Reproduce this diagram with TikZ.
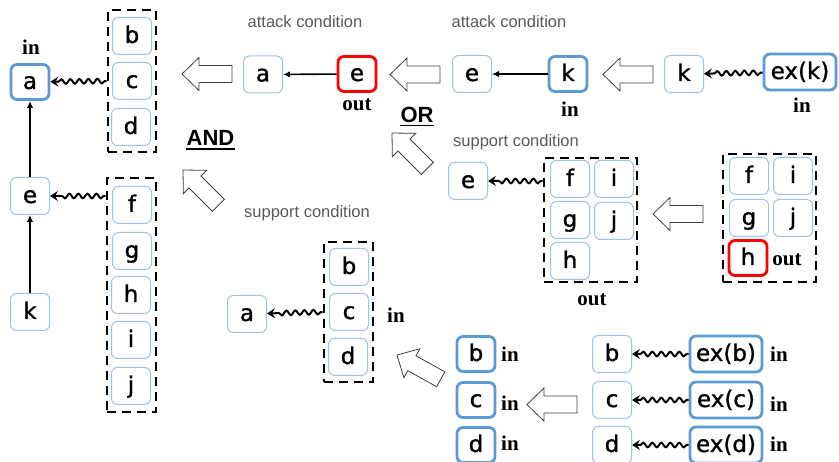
\documentclass[tikz,border=0pt]{standalone}
\usepackage{fontspec}
\setmainfont{Liberation Sans}
\newfontfamily\boxfont[FakeBold=1.2]{DejaVu Sans}
\newfontfamily\tagfont{Liberation Serif}
\usetikzlibrary{arrows.meta,decorations.pathmorphing}
\definecolor{lightblue}{HTML}{9DC3E6}
\definecolor{deepblue}{HTML}{5B9BD5}
\definecolor{condgray}{HTML}{595959}
\definecolor{outlinegray}{HTML}{404040}

\tikzset{
  arg/.style={draw=lightblue, line width=1pt, rounded corners=6pt,
    minimum width=39pt, minimum height=37pt, inner sep=0pt,
    text height=17pt, text depth=3pt, font=\boxfont\fontsize{23}{25}\selectfont},
  argin/.style={arg, draw=deepblue, line width=2.8pt, minimum width=38pt, minimum height=35pt},
  argout/.style={arg, draw=red, line width=2.8pt, minimum width=38pt, minimum height=35pt},
  exarg/.style={argin, minimum width=72pt, minimum height=36pt},
  dashgroup/.style={draw, line width=2.6pt, dash pattern=on 9pt off 6pt, inner sep=0pt},
  statelab/.style={font=\tagfont\bfseries\fontsize{21}{23}\selectfont, inner sep=0pt},
  cond/.style={font=\fontsize{16.5}{18}\selectfont, text=condgray, inner sep=0pt},
  logic/.style={font=\bfseries\fontsize{22}{24}\selectfont, inner sep=0pt},
  attack/.style={line width=1.6pt, -{Latex[length=7pt,width=6.5pt]}},
  support/.style={line width=2pt, -{Stealth[length=8pt,width=10pt,inset=3pt]},
    decorate, decoration={snake, amplitude=2.3pt, segment length=9pt,
    pre length=2pt, post length=8pt}},
  hollow/.pic={\draw[outlinegray, line width=0.8pt, fill=white, line join=miter]
    (0,0) -- (17,-16.5) -- (17,-8.5) -- (50,-8.5) -- (50,8.5) -- (17,8.5) -- (17,16.5) -- cycle;}
}

\begin{document}
\begin{tikzpicture}[x=1pt, y=-1pt]
\useasboundingbox (0,0) rectangle (839,462);

% ---------- left: resulting graph ----------
\node[argin] (A1) at (30,82) {a};
\node[statelab] (inA1) at (31,47) {in};
\node[arg] (E1) at (30,196) {e};
\node[arg] (K1) at (30,312) {k};
\node[dashgroup, minimum width=48pt, minimum height=142pt] (X1) at (132,81) {};
\node[arg] (B1) at (132,36) {b};
\node[arg] (C1) at (132,81) {c};
\node[arg] (D1) at (131,127) {d};
\node[dashgroup, minimum width=49pt, minimum height=234pt] (X2) at (131.5,295) {};
\node[arg] (F1) at (132,205) {f};
\node[arg] (G1) at (132,251) {g};
\node[arg] (H1) at (131,295) {h};
\node[arg] (I1) at (131,340) {i};
\node[arg] (J1) at (131,386) {j};
\draw[support] (X1.west) -- (A1);
\draw[support] (X2.west |- E1) -- (E1);
\draw[attack] (E1) -- (A1);
\draw[attack] (K1) -- (E1);

\node[logic] (andop) at (210.5,138) {AND};
\draw[line width=1.8pt] ([yshift=-3.5pt]andop.base west) -- ([yshift=-3.5pt]andop.base east);

% ---------- top: attack conditions ----------
\node[cond] (att1) at (305,22) {attack condition};
\node[arg] (A2) at (263,74.5) {a};
\node[argout] (E2) at (357,74) {e};
\node[statelab] (outE2) at (357,105) {out};
\draw[attack] (E2) -- (A2);

\node[logic] (orop) at (417,114.5) {OR};
\draw[line width=1.8pt] ([yshift=-3.5pt]orop.base west) -- ([yshift=-3.5pt]orop.base east);

\node[cond] (att2) at (509,22) {attack condition};
\node[arg] (E3) at (472,74) {e};
\node[argin] (K2) at (568,74) {k};
\node[statelab] (inK2) at (570,109) {in};
\draw[attack] (K2) -- (E3);

\node[arg] (K3) at (684,74) {k};
\node[exarg] (EXK) at (800,72) {ex(k)};
\node[statelab] (inEXK) at (802,105) {in};
\draw[support] (EXK) -- (K3);

% ---------- middle right: support condition of e ----------
\node[cond] (sup1) at (516,142) {support condition};
\node[arg] (E4) at (468,181) {e};
\node[dashgroup, minimum width=93pt, minimum height=124pt] (X3) at (590.5,220) {};
\node[arg] (F3) at (570,179) {f};
\node[arg] (I3) at (614,179) {i};
\node[arg] (G3) at (570,220) {g};
\node[arg] (J3) at (614,221) {j};
\node[arg] (H3) at (570,261) {h};
\node[statelab] (outX3) at (592,300) {out};
\draw[support] (X3.west |- E4) -- (E4);

\node[dashgroup, minimum width=93pt, minimum height=128pt] (X4) at (769.5,218) {};
\node[arg] (F4) at (749,176) {f};
\node[arg] (I4) at (793,176) {i};
\node[arg] (G4) at (749,218) {g};
\node[arg] (J4) at (793,218) {j};
\node[argout] (H4) at (748,258) {h};
\node[statelab] (outH4) at (787,260) {out};

% ---------- bottom: support condition of a ----------
\node[cond] (sup2) at (307,213) {support condition};
\node[arg] (A3) at (247,314) {a};
\node[dashgroup, minimum width=49pt, minimum height=140pt] (X5) at (348.5,312) {};
\node[arg] (B3) at (349,267) {b};
\node[arg] (C3) at (349,312) {c};
\node[arg] (D3) at (348,357) {d};
\node[statelab] (inX5) at (396,315) {in};
\draw[support] (X5.west) -- (A3);

\node[argin] (B4) at (476,354) {b};
\node[argin] (C4) at (476,400) {c};
\node[argin] (D4) at (476,445) {d};
\node[statelab] (inB4) at (510,354) {in};
\node[statelab] (inC4) at (510,403) {in};
\node[statelab] (inD4) at (510,443) {in};

\node[arg] (B5) at (612,354) {b};
\node[arg] (C5) at (612,400) {c};
\node[arg] (D5) at (612,445) {d};
\node[exarg] (EXB) at (726,354) {ex(b)};
\node[exarg] (EXC) at (726,400) {ex(c)};
\node[exarg] (EXD) at (726,445) {ex(d)};
\node[statelab] (inEXB) at (779,354) {in};
\node[statelab] (inEXC) at (779,404) {in};
\node[statelab] (inEXD) at (779,444) {in};
\draw[support] (EXB) -- (B5);
\draw[support] (EXC) -- (C5);
\draw[support] (EXD) -- (D5);

% ---------- hollow block arrows ----------
\pic at (182,74) {hollow};
\pic at (390,74.5) {hollow};
\pic at (603,74.5) {hollow};
\pic at (653,214) {hollow};
\pic at (527,404.5) {hollow};
\pic[rotate=-45] at (183,170) {hollow};
\pic[rotate=-45] at (392,133) {hollow};
\pic[rotate=-29] at (397,355) {hollow};
\end{tikzpicture}
\end{document}
